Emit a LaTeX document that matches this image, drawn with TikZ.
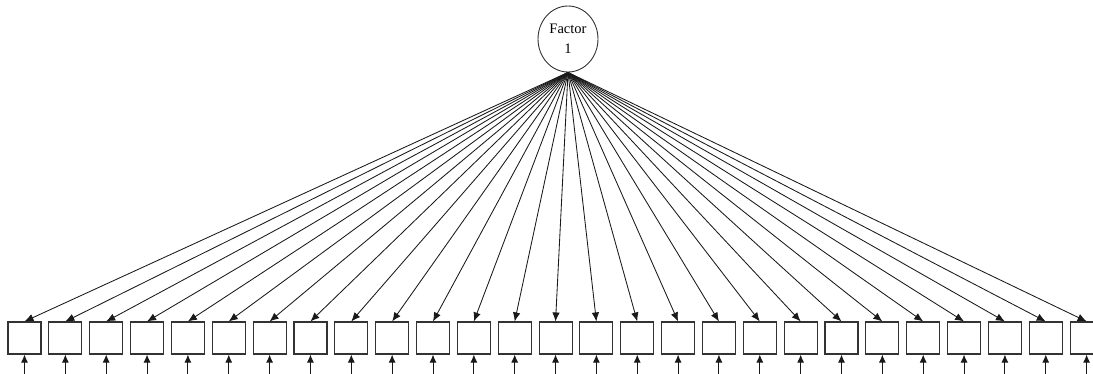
\documentclass[tikz,border=0pt]{standalone}
\usepackage{fontspec}
\setmainfont{Liberation Serif}
\usetikzlibrary{arrows.meta}
\tikzset{
  factor/.style={draw=black!80, line width=0.9pt, ellipse, minimum width=60pt, minimum height=66pt, inner sep=0pt, align=center, font=\fontsize{14.5}{20}\selectfont},
  indicator/.style={draw=black!80, line width=1.1pt, minimum width=33pt, minimum height=32pt, inner sep=0pt},
  load/.style={-{Latex[length=9pt,width=7.5pt]}, line width=0.85pt, black!90},
  err/.style={-{Latex[length=8pt,width=7pt]}, line width=1pt, black!90}
}
\usetikzlibrary{shapes.geometric}
\begin{document}
\begin{tikzpicture}[x=1pt,y=1pt]
  \useasboundingbox (0,0) rectangle (1093,373);
  \clip (0,0) rectangle (1093,373);
  % latent factor
  \node[factor] (f) at (568,334) {Factor\\1};
  % observed indicators with loadings and error terms
  \foreach \i in {0,...,26} {
    \pgfmathsetmacro{\cx}{24.5+40.85*\i}
    \node[indicator] (v\i) at (\cx,35) {};
    \coordinate (e\i) at (\cx,-1);
    \draw[load] (f.south) -- (v\i.north);
    \draw[err] (e\i) -- (v\i.south);
  }
\end{tikzpicture}
\end{document}
